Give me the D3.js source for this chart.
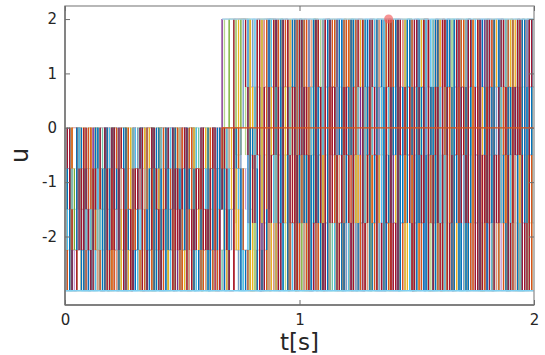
<!DOCTYPE html>
<html>
<head>
<meta charset="utf-8">
<script src="https://cdn.jsdelivr.net/npm/d3@7"></script>
<style>
    body { margin: 0; background: #fff; }
    svg { display: block; font-family: "DejaVu Sans", sans-serif; }
</style>
</head>
<body>
<div id="chart"></div>
<script>
// input levels before / after the upper limit steps from 0 to 2
const levelsA = [0, -0.75, -1.5, -2.25, -3];
const levelsB = [2, 0.75, -0.5, -1.75, -3];
const timeStep = 0.01;

const seriesColors = ["#77AC30", "#C39BD3", "#6DC5A8", "#7E2F8E", "#B5D68C", "#7A9CC6",
    "#E8967A", "#EDB120", "#4DBEEE", "#D95319", "#0072BD", "#A2142F"];
const switchTimes = [0.70, 0.80, 0.84, 0.67, 0.68, 0.76, 0.82, 0.74, 0.78, 0.86, 0.87, 0.72];

// one digit per time step = index into the level list
const seriesCodes = [
    "0441302214 4003321140 2241004331 1330244012 0224113400 3314002241 4420113300 0002200004 4113004221 3002241143 0442130024 1224403310 2001443221 4330122041 0143320014 2210044312 3441002234 1002331440 4421103224 0334210041",
    "2213400142 0041322403 3302144210 4120033241 1442201304 0031244123 2240013341 4433311222 0000330014 2241003312 1003422401 4321100243 0244312004 3110244302 2003411240 4422013301 1030244213 0241133024 3312004412 2004431120",
    "3042211430 1224003142 0331422041 2004133420 4310024113 1442300214 3021144302 0033441122 3344000024 1003241140 4421003312 0114320443 2340011224 1002443301 3241100423 0034421130 2413300241 4002213340 1134420012 3310244201",
    "4120033214 2301144023 0042311240 3214400132 1003224410 4421031102 2330140000 0000000031 1224300411 0413322004 2200143321 3041120034 1432004412 0021344310 4300212243 2114033420 0320441102 3401122304 1043300241 4220134013",
    "1304422031 3140021344 2213403012 0341120443 4002331204 2140042331 0314422100 0030000220 4100322403 2334100214 0022413340 3140024412 4203311024 2441003132 1024430013 3300142241 4211034002 0143220341 2002413314 1340022430",
    "2034410321 4112033204 1420044132 3003214421 0241330024 3024112403 1430022141 3221400011 0024413002 4301124330 2143002411 0330241204 3102443120 1244020313 4013322041 0240113302 3321004424 1042431100 0314022341 2421103002",
    "0321144203 2004312410 4342001123 1120344302 3014420131 0243311402 4112034420 1122333444 4400022441 3012244300 1340022143 4001334210 2124400341 0330142204 3412001342 1003244130 4240113021 2311400243 0024331402 3143002114",
    "1203344021 0330142214 3014220403 2441003142 0132441023 4210033140 1043221034 2013000004 1120334401 4203110342 3014420013 2301143420 0442310132 4013224401 1320041234 4102233041 0034124310 2413004412 3240112043 0102443231",
    "4012203341 1340241002 2103314420 4230021134 3014402213 1302240041 3440112203 1100224400 0312240013 2140033421 3024410132 1102243304 4330124410 2014403122 0243110432 3110420243 1402331004 4320012431 0241130204 2003442113",
    "3410022143 0213344021 4021130243 1344200413 2401133024 0330421142 3204410023 4400113344 4433440000 0221043304 2304110423 4412032140 1030224431 3241100342 0114322041 2430013304 4021342110 1334002241 3102244130 0441203324",
    "2143300412 4320114031 0214402334 3102241040 1440320213 3021144320 0413302144 2201144330 1144332000 2304411023 0132240314 3401122043 1204433102 4320014231 2041330124 0314221403 3220140341 1403324012 4130022341 2214403120",
    "1024431302 3412200143 0330142241 2104433012 4321004132 1044231203 2310442013 4400000122 3204411320 1430023142 0212443013 4003124321 2341100432 0124433104 3402211340 1230044213 4014322031 2301140423 0442310124 3120243401"
];

// limit lines drawn over the runs
const lowerLimitT = [0, 2], lowerLimitU = [-3, -3];
const upperLimitT = [0.67, 2], upperLimitU = [2, 2];
const zeroLineT = [0.67, 2], zeroLineU = [0, 0];

const markerT = [1.38];
const markerU = [2];

const xTicks = [0, 1, 2];
const yTicks = [-2, -1, 0, 1, 2];

const margin = { top: 6, right: 11, bottom: 50, left: 65 };
const width = 545 - margin.left - margin.right;
const height = 355 - margin.top - margin.bottom;

const svg = d3.select("#chart").append("svg")
    .attr("width", 545)
    .attr("height", 355);

const g = svg.append("g")
    .attr("transform", `translate(${margin.left},${margin.top})`);

const x = d3.scaleLinear().domain([0, 2]).range([0, width]);
const y = d3.scaleLinear().domain([-3.26, 2.24]).range([height, 0]);

const stepLine = d3.line()
    .x(d => x(d.t))
    .y(d => y(d.u))
    .curve(d3.curveStepAfter);

const plainLine = d3.line()
    .x(d => x(d.t))
    .y(d => y(d.u));

function buildSeries(code, sw) {
    const digits = code.replace(/\s/g, "").split("").map(Number).slice(0, 200);
    const pts = digits.map((d, i) => {
        const t = i * timeStep;
        return { t: t, u: t < sw - 1e-9 ? levelsA[d] : levelsB[d] };
    });
    pts.push({ t: 2, u: pts[pts.length - 1].u });
    return pts;
}

const runs = seriesCodes.map((c, i) => ({ color: seriesColors[i], pts: buildSeries(c, switchTimes[i]) }));

// jumps of every run, kept in plotting order
const jumps = [];
runs.forEach(r => {
    for (let i = 1; i < r.pts.length; i++) {
        if (r.pts[i].u !== r.pts[i - 1].u) {
            jumps.push({ t: r.pts[i].t, u0: r.pts[i - 1].u, u1: r.pts[i].u, color: r.color });
        }
    }
});

const plot = g.append("g");

// stairs underneath (holds show only between the jumps)
plot.selectAll("path.run")
    .data(runs)
    .enter().append("path")
    .attr("class", "run")
    .attr("d", d => stepLine(d.pts))
    .attr("fill", "none")
    .attr("stroke", d => d.color)
    .attr("stroke-width", 0.6)
    .attr("stroke-opacity", 0.5);

plot.selectAll("line.jump")
    .data(jumps)
    .enter().append("line")
    .attr("class", "jump")
    .attr("x1", d => x(d.t))
    .attr("x2", d => x(d.t))
    .attr("y1", d => y(d.u0))
    .attr("y2", d => y(d.u1))
    .attr("stroke", d => d.color)
    .attr("stroke-width", 1.3);

function pairs(ts, us) { return ts.map((t, i) => ({ t: t, u: us[i] })); }

plot.append("path")
    .attr("d", plainLine(pairs(lowerLimitT, lowerLimitU)))
    .attr("stroke", "#7FD0F2").attr("stroke-width", 1.5).attr("fill", "none");
plot.append("path")
    .attr("d", plainLine(pairs(upperLimitT, upperLimitU)))
    .attr("stroke", "#9FD8F0").attr("stroke-width", 1.3).attr("fill", "none");
plot.append("path")
    .attr("d", plainLine(pairs(zeroLineT, zeroLineU)))
    .attr("stroke", "#D95319").attr("stroke-width", 1.2).attr("fill", "none");

plot.selectAll("circle.marker")
    .data(markerT)
    .enter().append("circle")
    .attr("class", "marker")
    .attr("cx", d => x(d))
    .attr("cy", (d, i) => y(markerU[i]))
    .attr("r", 4.5)
    .attr("fill", "#F25A5A")
    .attr("fill-opacity", 0.65);

// axes box, MATLAB style with inward ticks on all sides
const axisColor = "#6e6e6e";
const tickLen = 5;
const fmt = d => String(d);

g.append("rect")
    .attr("x", 0).attr("y", 0)
    .attr("width", width).attr("height", height)
    .attr("fill", "none")
    .attr("stroke", "#9a9a9a")
    .attr("stroke-width", 1.4);

g.append("line")
    .attr("x1", 0).attr("x2", 0).attr("y1", 0).attr("y2", height)
    .attr("stroke", axisColor).attr("stroke-width", 1.4);
g.append("line")
    .attr("x1", 0).attr("x2", width).attr("y1", height).attr("y2", height)
    .attr("stroke", axisColor).attr("stroke-width", 1.4);

const xAxis = d3.axisBottom(x).tickValues(xTicks).tickFormat(fmt).tickSizeInner(-tickLen).tickSizeOuter(0).tickPadding(9);
const yAxis = d3.axisLeft(y).tickValues(yTicks).tickFormat(fmt).tickSizeInner(-tickLen).tickSizeOuter(0).tickPadding(8);

g.append("g")
    .attr("transform", `translate(0,${height})`)
    .call(xAxis)
    .call(a => a.select(".domain").remove())
    .call(a => a.selectAll("line").attr("stroke", axisColor))
    .call(a => a.selectAll("text").attr("fill", "#262626").style("font-size", "15px").style("font-family", "DejaVu Sans"));

g.append("g")
    .call(yAxis)
    .call(a => a.select(".domain").remove())
    .call(a => a.selectAll("line").attr("stroke", axisColor))
    .call(a => a.selectAll("text").attr("fill", "#262626").style("font-size", "15px").style("font-family", "DejaVu Sans"));

// mirrored ticks on top and right
g.append("g")
    .call(d3.axisTop(x).tickValues(xTicks).tickSizeInner(-tickLen).tickSizeOuter(0).tickFormat(""))
    .call(a => a.select(".domain").remove())
    .call(a => a.selectAll("line").attr("stroke", axisColor));

g.append("g")
    .attr("transform", `translate(${width},0)`)
    .call(d3.axisRight(y).tickValues(yTicks).tickSizeInner(-tickLen).tickSizeOuter(0).tickFormat(""))
    .call(a => a.select(".domain").remove())
    .call(a => a.selectAll("line").attr("stroke", axisColor));

svg.append("text")
    .attr("x", margin.left + x(1))
    .attr("y", 350)
    .attr("text-anchor", "middle")
    .attr("fill", "#262626")
    .style("font-size", "23px")
    .text("t[s]");

svg.append("text")
    .attr("transform", `translate(28,${margin.top + height / 2}) rotate(-90)`)
    .attr("text-anchor", "middle")
    .attr("fill", "#262626")
    .style("font-size", "24px")
    .text("u");
</script>
</body>
</html>
